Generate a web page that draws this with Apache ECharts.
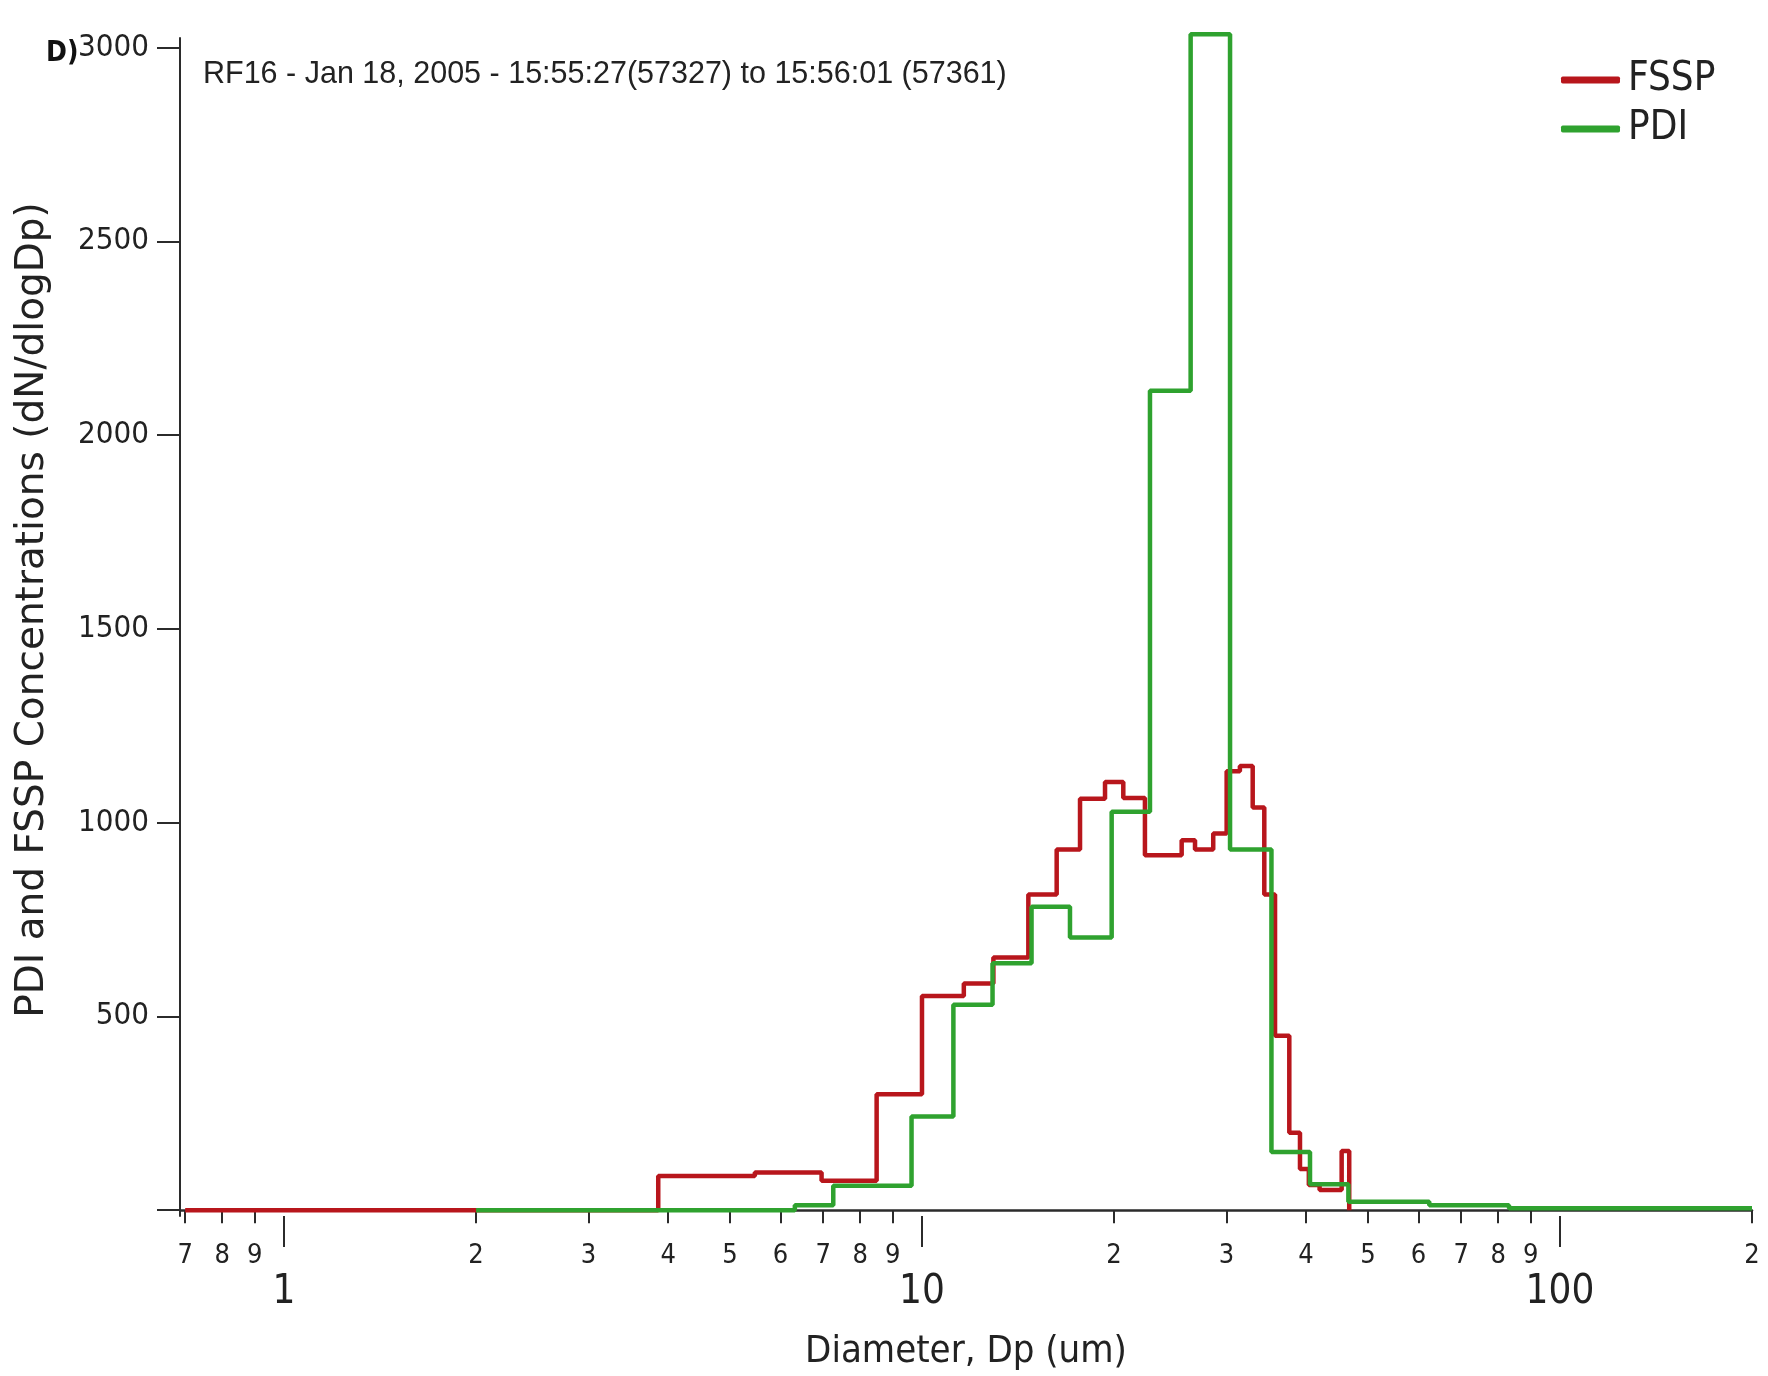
<!DOCTYPE html>
<html>
<head>
<meta charset="utf-8">
<script src="https://cdn.jsdelivr.net/npm/echarts@6/dist/echarts.min.js"></script>
<style>
html,body{margin:0;padding:0;background:#fff;}
#chart{width:1768px;height:1376px;}
</style>
</head>
<body>
<div id="chart"></div>
<script>
// ---- Data ----
// FSSP: bin left edges (um) and dN/dlogDp values; last edge closes the final bin
const fsspEdges = [0.70, 3.86, 5.47, 6.96, 8.49, 10.0, 11.63, 12.94, 14.68, 16.26, 17.69, 19.36, 20.68, 22.36, 25.53, 26.79, 28.61, 30.03, 31.5, 32.99, 34.4, 35.76, 37.65, 39.13, 40.4, 42.0, 45.48, 46.74];
const fsspValues = [0, 88, 97, 76, 299, 553, 585, 652, 815, 931, 1062, 1105, 1064, 916, 955, 931, 972, 1133, 1146, 1039, 815, 450, 200, 106, 65, 52, 153];
const fsspEndValue = 0;

// PDI
const pdiEdges = [2.0, 6.32, 7.26, 9.63, 11.2, 12.9, 14.85, 17.06, 19.83, 22.77, 26.37, 30.4, 35.3, 40.57, 46.6, 62.4, 83.2, 200];
const pdiValues = [0, 13, 63, 242, 530, 637, 783, 704, 1028, 2115, 3035, 931, 150, 67, 22, 13, 5];
const pdiEndValue = 5;

// Axis ticks / labels
const xMinorTicks = [0.7, 0.8, 0.9, 2, 3, 4, 5, 6, 7, 8, 9, 20, 30, 40, 50, 60, 70, 80, 90, 200];
const xMinorLabels = ['7', '8', '9', '2', '3', '4', '5', '6', '7', '8', '9', '2', '3', '4', '5', '6', '7', '8', '9', '2'];
const xMajorTicks = [1, 10, 100];
const xMajorLabels = ['1', '10', '100'];
const yTicks = [0, 500, 1000, 1500, 2000, 2500, 3000];
const yLabels = ['0', '500', '1000', '1500', '2000', '2500', '3000'];

const titleText = 'RF16 - Jan 18, 2005 - 15:55:27(57327) to 15:56:01 (57361)';
const panelText = 'D)';

// ---- Build step points ----
function stepPoints(edges, values, endValue) {
  const pts = values.map((v, i) => [edges[i], v]);
  const last = edges[edges.length - 1];
  pts.push([last, values[values.length - 1]]);
  pts.push([last, endValue]);
  return pts;
}
function lookup(ticks, labels) {
  return (v) => {
    for (let i = 0; i < ticks.length; i++) {
      if (Math.abs(v - ticks[i]) / ticks[i] < 1e-6) return labels[i];
    }
    return '';
  };
}

const NARROW = "'Liberation Sans Narrow', 'DejaVu Sans Condensed', 'Arial Narrow', sans-serif";
const AXIS_COLOR = '#2b2b2b';
const RED = '#b8161c';
const GREEN = '#2fa22f';

const chart = echarts.init(document.getElementById('chart'), null, {renderer: 'canvas'});
const xCommon = {
  type: 'log', logBase: 10, min: 0.687, max: 200, gridIndex: 0, position: 'bottom',
  splitLine: {show: false}, minorTick: {show: false}, minorSplitLine: {show: false}
};
chart.setOption({
  animation: false,
  backgroundColor: '#fff',
  title: [
    {text: panelText, left: 41, top: 35, textStyle: {fontFamily: NARROW, fontSize: 28, fontWeight: 'bold', color: '#111'}},
    {text: titleText, left: 198, top: 54, textStyle: {fontFamily: "'Liberation Sans', Arial, sans-serif", fontSize: 30.5, fontWeight: 'normal', color: '#222'}}
  ],
  legend: {
    data: ['FSSP', 'PDI'], orient: 'vertical', left: 1556, top: 55,
    icon: 'roundRect', itemWidth: 59, itemHeight: 7, itemGap: 9,
    textStyle: {fontFamily: NARROW, fontSize: 40, color: '#222', padding: [0, 0, 0, 3]}
  },
  grid: {left: 180, right: 16, top: 38, bottom: 159, containLabel: false},
  xAxis: [
    Object.assign({}, xCommon, {
      name: 'Diameter, Dp (um)', nameLocation: 'middle', nameGap: 117,
      nameTextStyle: {fontFamily: NARROW, fontSize: 38, color: '#222'},
      axisLine: {show: true, lineStyle: {color: AXIS_COLOR, width: 2.5}},
      axisTick: {show: true, length: 13, lineStyle: {color: AXIS_COLOR, width: 2}, customValues: xMinorTicks},
      axisLabel: {show: true, margin: 26, fontFamily: NARROW, fontSize: 27, color: '#222',
        customValues: xMinorTicks, formatter: lookup(xMinorTicks, xMinorLabels)}
    }),
    Object.assign({}, xCommon, {
      axisLine: {show: false},
      axisTick: {show: true, length: 31, lineStyle: {color: AXIS_COLOR, width: 2}, customValues: xMajorTicks},
      axisLabel: {show: true, margin: 57, fontFamily: NARROW, fontSize: 40, color: '#222',
        customValues: xMajorTicks, formatter: lookup(xMajorTicks, xMajorLabels)}
    })
  ],
  yAxis: {
    type: 'value', min: -15, max: 3025,
    name: 'PDI and FSSP Concentrations (dN/dlogDp)', nameLocation: 'middle', nameGap: 128,
    nameTextStyle: {fontFamily: "'DejaVu Sans', Verdana, sans-serif", fontSize: 39, color: '#222', padding: [0, 0, 0, 34]},
    splitLine: {show: false},
    axisLine: {show: true, lineStyle: {color: AXIS_COLOR, width: 2}},
    axisTick: {show: true, length: 23, lineStyle: {color: AXIS_COLOR, width: 2}, customValues: yTicks},
    axisLabel: {show: true, margin: 31, fontFamily: NARROW, fontSize: 31, color: '#222',
      customValues: yTicks, formatter: lookup(yTicks, yLabels)}
  },
  series: [
    {name: 'FSSP', type: 'line', step: 'end', xAxisIndex: 0, data: stepPoints(fsspEdges, fsspValues, fsspEndValue),
      showSymbol: false, symbol: 'none', clip: false, color: RED, lineStyle: {color: RED, width: 4.5}, z: 2},
    {name: 'PDI', type: 'line', step: 'end', xAxisIndex: 0, data: stepPoints(pdiEdges, pdiValues, pdiEndValue),
      showSymbol: false, symbol: 'none', clip: false, color: GREEN, lineStyle: {color: GREEN, width: 4.5}, z: 3}
  ]
});
</script>
</body>
</html>
